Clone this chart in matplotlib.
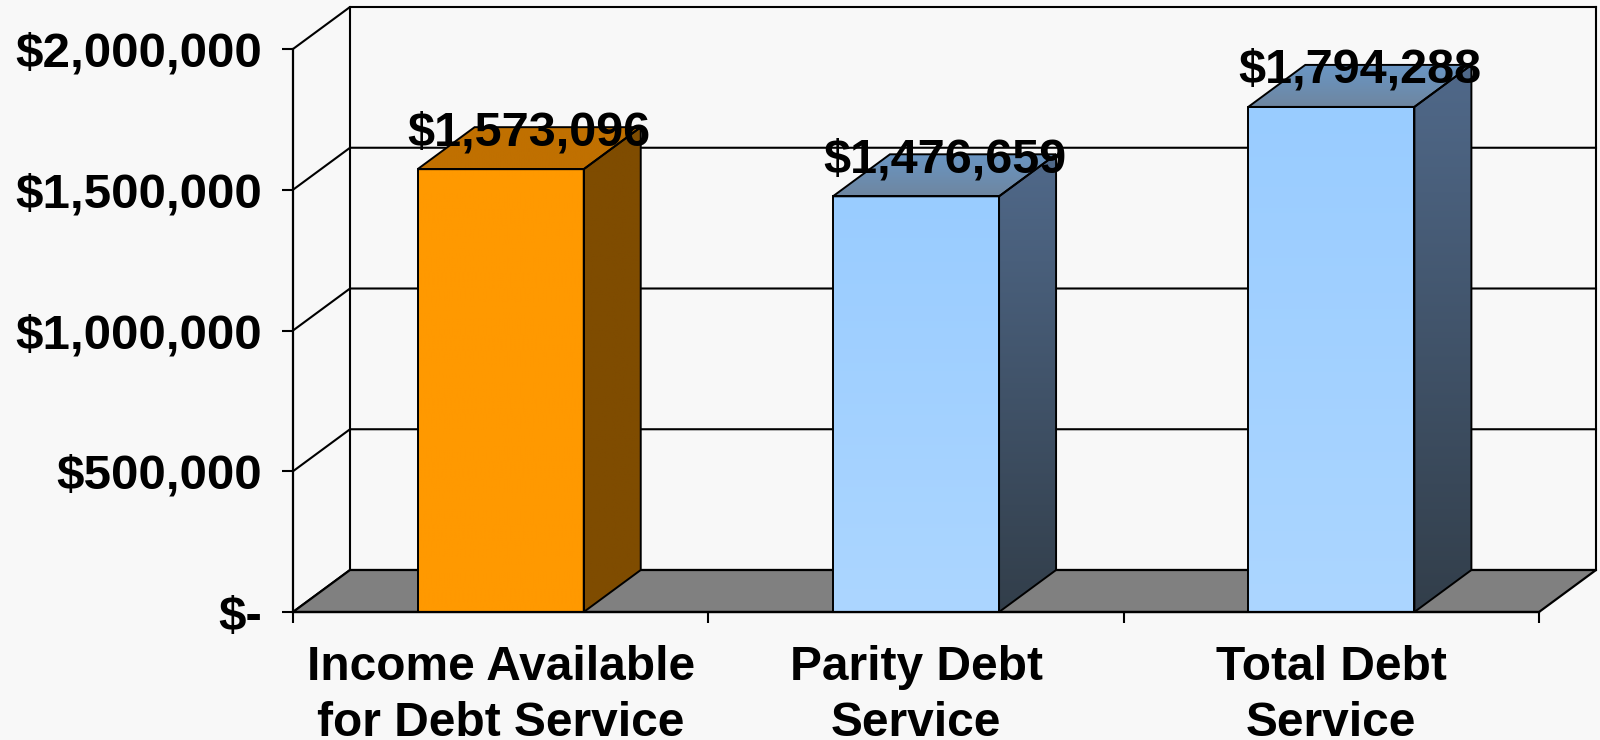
import numpy as np
import matplotlib
matplotlib.use("Agg")
import matplotlib.pyplot as plt
from matplotlib.patches import Polygon
from matplotlib.ticker import FuncFormatter
from matplotlib.colors import LinearSegmentedColormap

categories = ["Income Available\nfor Debt Service", "Parity Debt\nService", "Total Debt\nService"]
values = [1573096, 1476659, 1794288]
y_ticks = [0, 500000, 1000000, 1500000, 2000000]
y_max = 2000000

plt.rcParams['font.family'] = ['Liberation Sans', 'DejaVu Sans']
plt.rcParams['font.weight'] = 'bold'

bg = '#f8f8f8'
fig = plt.figure(figsize=(16, 7.4), dpi=100, facecolor=bg)
# front plane of the 3d box
ax = fig.add_axes([293 / 1600, 128 / 740, 1246 / 1600, 563 / 740])
ax.set_facecolor('none')
x0, x1 = -0.5, len(values) - 0.5
ax.set_xlim(x0, x1)
ax.set_ylim(0, y_max)

# depth of the box, pixels -> data units
bbox = ax.get_window_extent()
dx = 57 / bbox.width * (x1 - x0)
dy = 42 / bbox.height * y_max

# back wall + left wall gridlines
for t in y_ticks:
    ax.plot([x0, x0 + dx, x1 + dx], [t, t + dy, t + dy], color='black', lw=1.5, clip_on=False, zorder=1)
ax.plot([x0 + dx, x0 + dx], [dy, y_max + dy], color='black', lw=1.5, clip_on=False, zorder=1)
ax.plot([x1 + dx, x1 + dx], [dy, y_max + dy], color='black', lw=1.5, clip_on=False, zorder=1)

# floor
floor = Polygon([(x0, 0), (x1, 0), (x1 + dx, dy), (x0 + dx, dy)], closed=True,
                fc='#808080', ec='black', lw=1.6, clip_on=False, zorder=2)
ax.add_patch(floor)


def grad_poly(pts, c_top, c_bot, z):
    poly = Polygon(pts, closed=True, fc='none', ec='black', lw=1.4, clip_on=False, zorder=z + 0.1)
    ax.add_patch(poly)
    xs = [p[0] for p in pts]
    ys = [p[1] for p in pts]
    cmap = LinearSegmentedColormap.from_list('g', [c_bot, c_top])
    grad = np.linspace(0, 1, 256).reshape(-1, 1)
    im = ax.imshow(grad, cmap=cmap, origin='lower', aspect='auto', interpolation='bilinear',
                   extent=[min(xs), max(xs), min(ys), max(ys)], zorder=z)
    im.set_clip_path(poly)


w = 0.4
for i, v in enumerate(values):
    l, r = i - w / 2, i + w / 2
    front = [(l, 0), (r, 0), (r, v), (l, v)]
    side = [(r, 0), (r + dx, dy), (r + dx, v + dy), (r, v)]
    top = [(l, v), (r, v), (r + dx, v + dy), (l + dx, v + dy)]
    if i == 0:
        grad_poly(front, '#ff9900', '#ff9900', 3)
        grad_poly(side, '#7f4c00', '#7f4c00', 3)
        grad_poly(top, '#c07000', '#c07000', 3)
    else:
        grad_poly(front, '#99ccff', '#acd6ff', 3)
        grad_poly(side, '#50698a', '#323e4a', 3)
        grad_poly(top, '#6a96c4', '#6e86a0', 3)
    ax.annotate(f"${v:,}", (i + dx / 2, v + dy), xytext=(0, -4), textcoords='offset points',
                ha='center', va='center', fontsize=35, fontweight='bold', zorder=10,
                annotation_clip=False)

ax.set_xlim(x0, x1)
ax.set_ylim(0, y_max)

for s in ['top', 'right']:
    ax.spines[s].set_visible(False)
for s in ['left', 'bottom']:
    ax.spines[s].set_linewidth(1.6)
    ax.spines[s].set_zorder(6)

ax.set_yticks(y_ticks)
ax.yaxis.set_major_formatter(FuncFormatter(lambda v, p: '$-' if v == 0 else f'${v:,.0f}'))
ax.tick_params(axis='y', direction='out', length=8, width=1.5, pad=14, labelsize=35.5)

ax.set_xticks(np.arange(len(values) + 1) - 0.5)
ax.set_xticklabels([])
ax.tick_params(axis='x', which='major', direction='out', length=8, width=1.5)
ax.set_xticks(np.arange(len(values)), minor=True)
ax.set_xticklabels(categories, minor=True, fontsize=34.5, fontweight='bold', linespacing=1.31)
ax.tick_params(axis='x', which='minor', length=0, pad=24)

fig.savefig('out.png', dpi=100, facecolor=bg)
